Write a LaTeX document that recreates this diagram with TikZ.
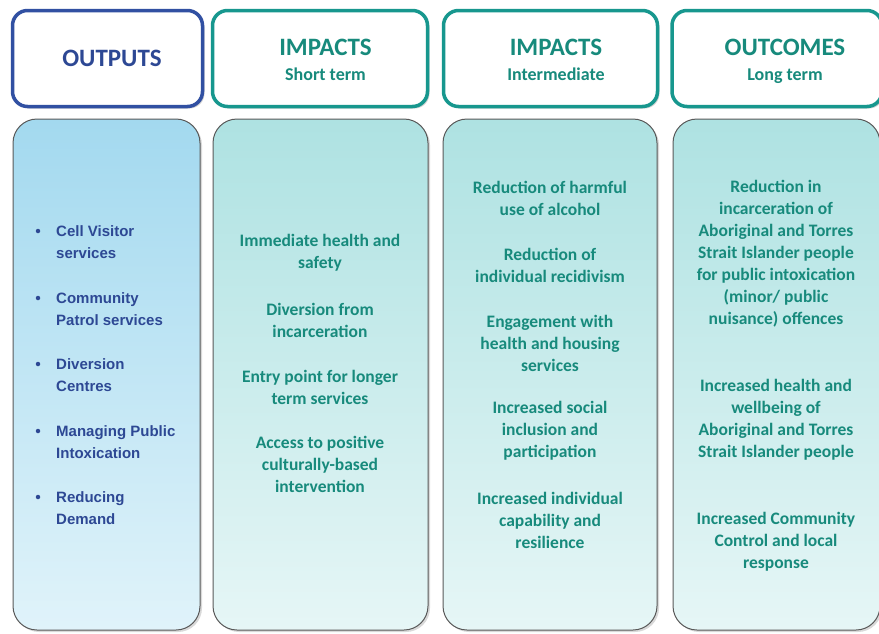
\documentclass[tikz,border=0pt]{standalone}
\usepackage{fontspec}
\usetikzlibrary{shadows}
\newfontfamily\calfont{Carlito}
\newfontfamily\arlfont{Liberation Sans}
\definecolor{hdblue}{HTML}{3150A2}
\definecolor{txblue}{HTML}{2D4894}
\definecolor{hdteal}{HTML}{17978E}
\definecolor{txteal}{HTML}{178A7C}
\definecolor{fillblueA}{HTML}{A3D9EF}
\definecolor{fillblueB}{HTML}{E0F3FA}
\definecolor{filltealA}{HTML}{AEE2E2}
\definecolor{filltealB}{HTML}{E6F6F6}
\begin{document}
\begin{tikzpicture}[x=1pt, y=-1pt,
  headbox/.style={draw, line width=3.5pt, rounded corners=15pt, fill=white,
    minimum height=96pt, inner sep=0pt,
    drop shadow={opacity=0.35, shadow xshift=2pt, shadow yshift=-2pt}},
  bodybox/.style={draw=black!65, line width=1pt, rounded corners=24pt,
    minimum height=511pt, inner sep=0pt, shading angle=60,
    drop shadow={opacity=0.3, shadow xshift=2pt, shadow yshift=-2pt}},
  headtxt/.style={inner sep=0pt, anchor=base, text=txteal, font=\calfont\bfseries\fontsize{25}{30}\selectfont},
  subtxt/.style={inner sep=0pt, anchor=base, text=txteal, font=\calfont\bfseries\fontsize{18}{22}\selectfont},
  item/.style={inner sep=0pt, align=center, text=txteal, font=\calfont\bfseries\fontsize{17.5}{22}\selectfont},
  outitem/.style={inner sep=0pt, anchor=west, align=left, text=txblue, font=\arlfont\bfseries\fontsize{15}{22}\selectfont},
  dot/.style={circle, fill=txblue, inner sep=0pt, minimum size=4.5pt}]
\useasboundingbox (0,0) rectangle (879,633);
% header boxes
\node[headbox, draw=hdblue, minimum width=190pt] (h1) at (107.5,58.5) {};
\node[headbox, draw=hdteal, minimum width=215pt] (h2) at (320,58.5) {};
\node[headbox, draw=hdteal, minimum width=214pt] (h3) at (550.5,58.5) {};
\node[headbox, draw=hdteal, minimum width=210pt] (h4) at (777,58.5) {};
\node[headtxt, text=txblue] (t1) at (112,66.5) {OUTPUTS};
\node[headtxt] (t2) at (325.5,55.5) {IMPACTS};
\node[subtxt] (s2) at (325.5,80) {Short term};
\node[headtxt] (t3) at (556,55.5) {IMPACTS};
\node[subtxt] (s3) at (556,80) {Intermediate};
\node[headtxt] (t4) at (785,55.5) {OUTCOMES};
\node[subtxt] (s4) at (785,80) {Long term};
% body boxes
\node[bodybox, top color=fillblueA, bottom color=fillblueB, minimum width=187pt] (b1) at (106.5,374.5) {};
\node[bodybox, top color=filltealA, bottom color=filltealB, minimum width=215pt] (b2) at (320.5,374.5) {};
\node[bodybox, top color=filltealA, bottom color=filltealB, minimum width=214pt] (b3) at (550,374.5) {};
\node[bodybox, top color=filltealA, bottom color=filltealB, minimum width=207pt] (b4) at (776.5,374.5) {};
% outputs
\node[dot] (d1) at (38,231) {};
\node[dot] (d2) at (38,298) {};
\node[dot] (d3) at (38,364) {};
\node[dot] (d4) at (38,431) {};
\node[dot] (d5) at (38,497) {};
\node[outitem] (o1) at (56,242) {Cell Visitor\\services};
\node[outitem] (o2) at (56,309) {Community\\Patrol services};
\node[outitem] (o3) at (56,375) {Diversion\\Centres};
\node[outitem] (o4) at (56,442) {Managing Public\\Intoxication};
\node[outitem] (o5) at (56,508) {Reducing\\Demand};
% short term
\node[item] (p1) at (320,253) {Immediate health and\\safety};
\node[item] (p2) at (320,320) {Diversion from\\incarceration};
\node[item] (p3) at (320,387) {Entry point for longer\\term services};
\node[item] (p4) at (320,464) {Access to positive\\culturally-based\\intervention};
% intermediate
\node[item] (m1) at (550,198) {Reduction of harmful\\use of alcohol};
\node[item] (m2) at (550,265) {Reduction of\\individual recidivism};
\node[item] (m3) at (550,343) {Engagement with\\health and housing\\services};
\node[item] (m4) at (550,431) {Increased social\\inclusion and\\participation};
\node[item] (m5) at (550,520) {Increased individual\\capability and\\resilience};
% long term
\node[item] (l1) at (776,253.5) {Reduction in\\incarceration of\\Aboriginal and Torres\\Strait Islander people\\for public intoxication\\(minor/ public\\nuisance) offences};
\node[item] (l2) at (776,419.5) {Increased health and\\wellbeing of\\Aboriginal and Torres\\Strait Islander people};
\node[item] (l3) at (776,542) {Increased Community\\Control and local\\response};
\end{tikzpicture}
\end{document}
